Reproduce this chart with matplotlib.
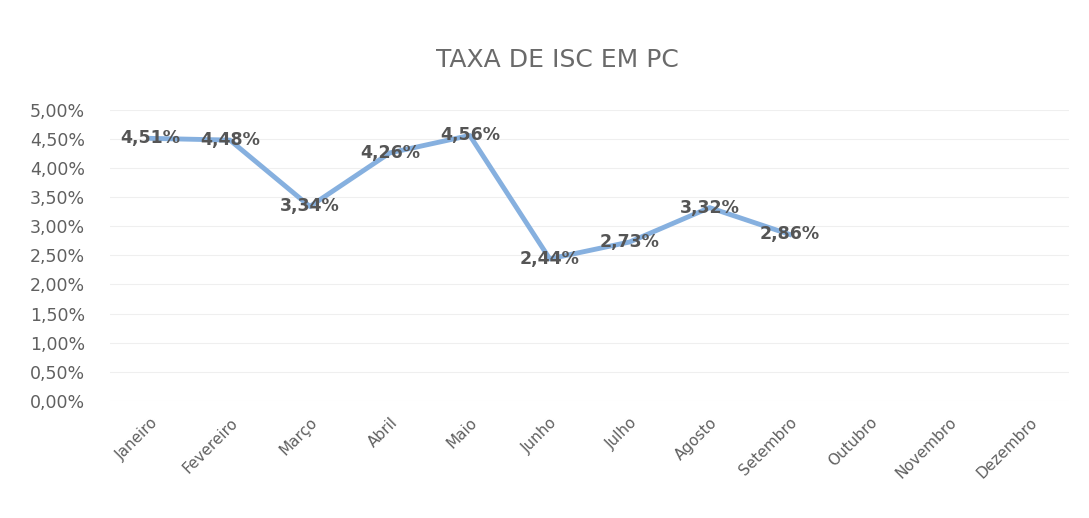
import numpy as np
import matplotlib.pyplot as plt
from matplotlib.ticker import FuncFormatter

months = ["Janeiro", "Fevereiro", "Março", "Abril", "Maio", "Junho",
          "Julho", "Agosto", "Setembro", "Outubro", "Novembro", "Dezembro"]
taxa = [4.51, 4.48, 3.34, 4.26, 4.56, 2.44, 2.73, 3.32, 2.86]
y_ticks = [0, 0.5, 1.0, 1.5, 2.0, 2.5, 3.0, 3.5, 4.0, 4.5, 5.0]


def pct(v, pos=None):
    return ("%.2f%%" % v).replace(".", ",")


fig = plt.figure(figsize=(10.89, 5.18), dpi=100)
ax = fig.add_axes([0.101, 0.226, 0.881, 0.562])

x = np.arange(len(months))
ax.plot(x[:len(taxa)], taxa, color="#86b0df", linewidth=3.5, solid_joinstyle="round")

# data labels centred on the points, like the spreadsheet
for xi, v in zip(x, taxa):
    ax.text(xi, v, pct(v), ha="center", va="center", fontsize=12.5,
            color="#555555", fontweight="bold")

ax.set_xlim(-0.5, len(months) - 0.5)
ax.set_ylim(0, 5)
ax.set_yticks(y_ticks)
ax.yaxis.set_major_formatter(FuncFormatter(pct))
ax.set_xticks(x)
ax.set_xticklabels(months, rotation=45, ha="right", rotation_mode="anchor",
                   fontsize=11, color="#606060")
ax.tick_params(axis="y", labelsize=12.5, colors="#606060", length=0, pad=18)
ax.tick_params(axis="x", length=0, pad=10)
ax.grid(axis="y", color="#efefef", linewidth=0.8)
ax.set_axisbelow(True)
for s in ax.spines.values():
    s.set_visible(False)

fig.text(0.512, 0.885, "TAXA DE ISC EM PC", ha="center", va="center",
         fontsize=18, color="#6a6a6a")

plt.savefig("out.png", dpi=100)
